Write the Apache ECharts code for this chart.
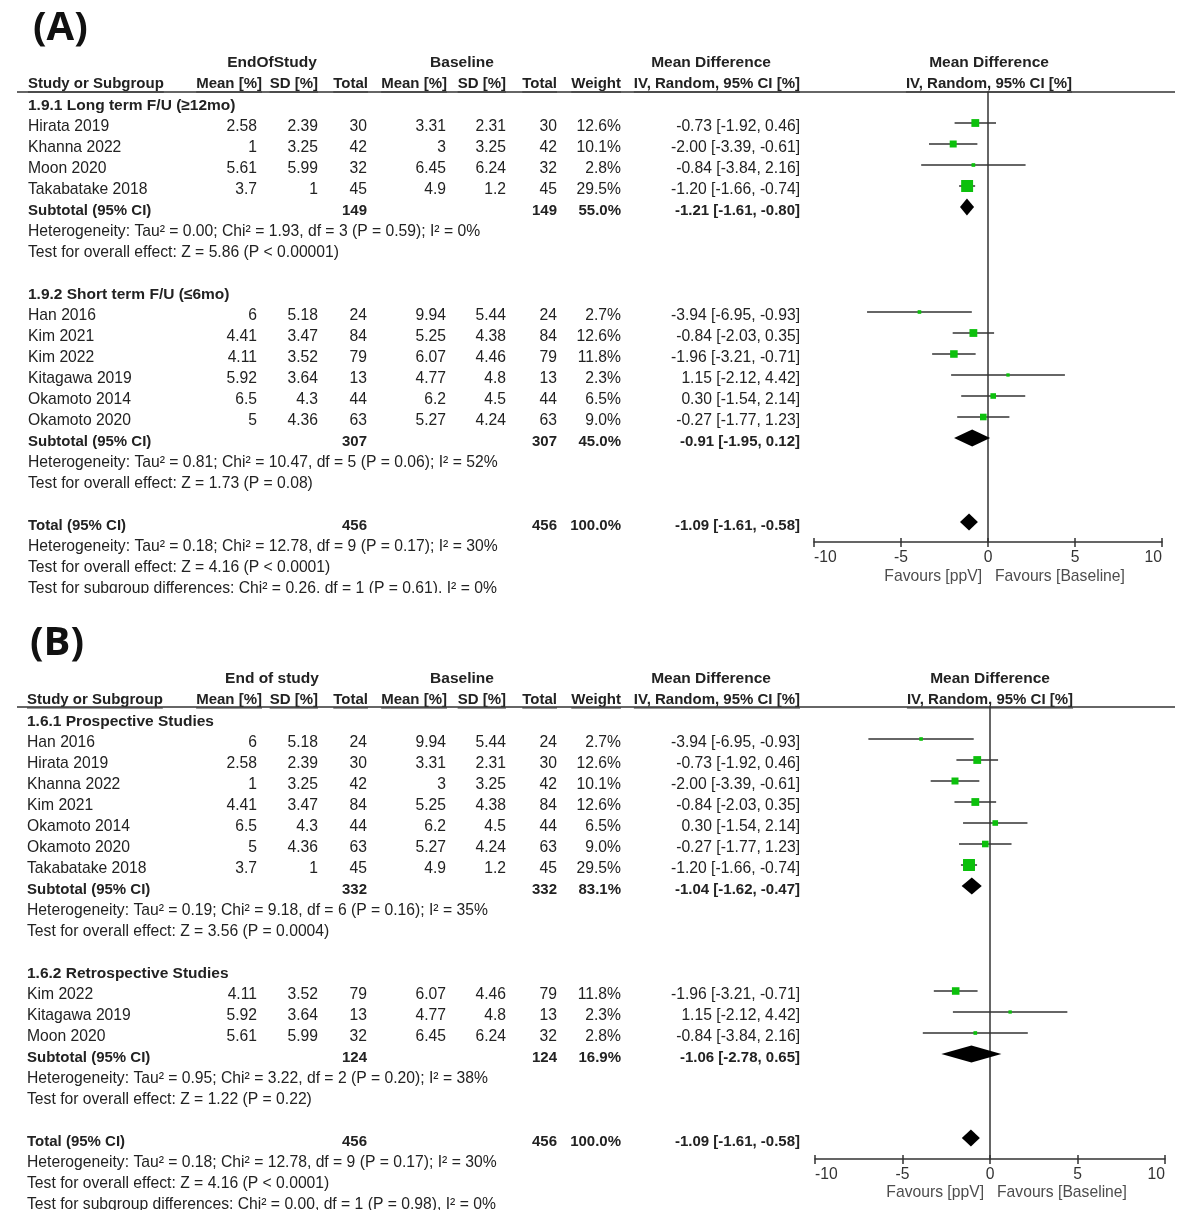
<!DOCTYPE html>
<html>
<head>
<meta charset="utf-8">
<script src="https://cdn.jsdelivr.net/npm/echarts@6/dist/echarts.min.js"></script>
<style>
  html, body { margin: 0; padding: 0; background: #fff; }
  #main { width: 1187px; height: 1223px; }
</style>
</head>
<body>
<div id="main"></div>
<script>
// study level data (shared by both panels)
const studies = ['Hirata 2019', 'Khanna 2022', 'Moon 2020', 'Takabatake 2018', 'Han 2016',
  'Kim 2021', 'Kim 2022', 'Kitagawa 2019', 'Okamoto 2014', 'Okamoto 2020'];
const endMean = [2.58, 1, 5.61, 3.7, 6, 4.41, 4.11, 5.92, 6.5, 5];
const endSD = [2.39, 3.25, 5.99, 1, 5.18, 3.47, 3.52, 3.64, 4.3, 4.36];
const endN = [30, 42, 32, 45, 24, 84, 79, 13, 44, 63];
const baseMean = [3.31, 3, 6.45, 4.9, 9.94, 5.25, 6.07, 4.77, 6.2, 5.27];
const baseSD = [2.31, 3.25, 6.24, 1.2, 5.44, 4.38, 4.46, 4.8, 4.5, 4.24];
const baseN = [30, 42, 32, 45, 24, 84, 79, 13, 44, 63];
const weight = [12.6, 10.1, 2.8, 29.5, 2.7, 12.6, 11.8, 2.3, 6.5, 9.0];
const md = [-0.73, -2.00, -0.84, -1.20, -3.94, -0.84, -1.96, 1.15, 0.30, -0.27];
const ciLow = [-1.92, -3.39, -3.84, -1.66, -6.95, -2.03, -3.21, -2.12, -1.54, -1.77];
const ciHigh = [0.46, -0.61, 2.16, -0.74, -0.93, 0.35, -0.71, 4.42, 2.14, 1.23];

// panel A: follow-up subgroups
const titlesA = ['1.9.1 Long term F/U (≥12mo)', '1.9.2 Short term F/U (≤6mo)'];
const membersA = [[0, 1, 2, 3], [4, 5, 6, 7, 8, 9]];
const subNA = [149, 307];
const subWeightA = [55.0, 45.0];
const subMdA = [-1.21, -0.91];
const subLowA = [-1.61, -1.95];
const subHighA = [-0.80, 0.12];
const hetA = ['Heterogeneity: Tau² = 0.00; Chi² = 1.93, df = 3 (P = 0.59); I² = 0%',
  'Heterogeneity: Tau² = 0.81; Chi² = 10.47, df = 5 (P = 0.06); I² = 52%'];
const testA = ['Test for overall effect: Z = 5.86 (P < 0.00001)',
  'Test for overall effect: Z = 1.73 (P = 0.08)'];
const subDiffA = 'Test for subgroup differences: Chi² = 0.26, df = 1 (P = 0.61), I² = 0%';

// panel B: study design subgroups
const titlesB = ['1.6.1 Prospective Studies', '1.6.2 Retrospective Studies'];
const membersB = [[4, 0, 1, 5, 8, 9, 3], [6, 7, 2]];
const subNB = [332, 124];
const subWeightB = [83.1, 16.9];
const subMdB = [-1.04, -1.06];
const subLowB = [-1.62, -2.78];
const subHighB = [-0.47, 0.65];
const hetB = ['Heterogeneity: Tau² = 0.19; Chi² = 9.18, df = 6 (P = 0.16); I² = 35%',
  'Heterogeneity: Tau² = 0.95; Chi² = 3.22, df = 2 (P = 0.20); I² = 38%'];
const testB = ['Test for overall effect: Z = 3.56 (P = 0.0004)',
  'Test for overall effect: Z = 1.22 (P = 0.22)'];
const subDiffB = 'Test for subgroup differences: Chi² = 0.00, df = 1 (P = 0.98), I² = 0%';

// overall
const totalN = 456;
const totalMd = -1.09, totalLow = -1.61, totalHigh = -0.58;
const totalHet = 'Heterogeneity: Tau² = 0.18; Chi² = 12.78, df = 9 (P = 0.17); I² = 30%';
const totalTest = 'Test for overall effect: Z = 4.16 (P < 0.0001)';

const axisTicks = [-10, 10, 5];
const favours = ['Favours [ppV]', 'Favours [Baseline]'];

// layout
const FONT = '"Liberation Sans", Arial, sans-serif';
const TXT = '#222';
const LINE = '#333';
const rowPitch = 21;
const textDy = 4;
const colRight = [257, 318, 367, 446, 506, 557, 621, 800];
const measure = document.createElement('canvas').getContext('2d');

function fmt(v) { return v.toFixed(2); }
function ci(m, l, h) { return fmt(m) + ' [' + fmt(l) + ', ' + fmt(h) + ']'; }

// size: number, bold when given as string like 'b15'
function T(x, y, s, align, size) {
  const bold = typeof size === 'string';
  return {
    type: 'text', x: x, y: y, silent: true,
    style: { text: s, fill: TXT, fontSize: bold ? +size.slice(1) : (size || 15.7), fontFamily: FONT,
      fontWeight: bold ? 'bold' : 'normal', align: align || 'left', verticalAlign: 'middle' }
  };
}
function L(x1, y1, x2, y2, w) {
  return { type: 'line', silent: true, shape: { x1: x1, y1: y1, x2: x2, y2: y2 },
    style: { stroke: LINE, lineWidth: w || 1 } };
}
function textW(s) {
  measure.font = 'bold 15px ' + FONT;
  return measure.measureText(s).width;
}

const graphics = [];
const options = { animation: false, grid: [], xAxis: [], yAxis: [], series: [], graphic: { elements: graphics } };

function buildPanel(idx, P, head1, titles, members, subN, subW, subMd, subLow, subHigh, het, test, subDiff) {
  graphics.push({ type: 'text', x: P.tagX, y: P.tagY, silent: true,
    style: { text: P.tag, fill: '#111', fontSize: 40, fontWeight: 'bold', fontFamily: '"Open Sans", sans-serif',
      verticalAlign: 'middle' } });

  // header
  graphics.push(T(272, P.head1Y, head1, 'center', 'b15.5'));
  graphics.push(T(462, P.head1Y, 'Baseline', 'center', 'b15.5'));
  graphics.push(T(711, P.head1Y, 'Mean Difference', 'center', 'b15.5'));
  graphics.push(T(P.plotMid, P.head1Y, 'Mean Difference', 'center', 'b15.5'));
  const h2 = ['Mean [%]', 'SD [%]', 'Total', 'Mean [%]', 'SD [%]', 'Total', 'Weight', 'IV, Random, 95% CI [%]'];
  const h2Right = [262, 318, 368, 447, 506, 557, 621, 800];
  const uy = P.head2Y + 8;
  graphics.push(T(P.labelX, P.head2Y, 'Study or Subgroup', 'left', 'b15'));
  graphics.push(L(P.labelX, uy, P.labelX + textW('Study or Subgroup'), uy, 1));
  h2.forEach((s, i) => {
    graphics.push(T(h2Right[i], P.head2Y, s, 'right', 'b15'));
    graphics.push(L(h2Right[i] - textW(s), uy, h2Right[i], uy, 1));
  });
  const iv = 'IV, Random, 95% CI [%]';
  graphics.push(T(P.plotMid, P.head2Y, iv, 'center', 'b15'));
  graphics.push(L(P.plotMid - textW(iv) / 2, uy, P.plotMid + textW(iv) / 2, uy, 1));
  graphics.push(L(17, P.lineY, 1175, P.lineY, 1.5));

  const studyData = [], diamondData = [];
  let k = 0;
  const y = (r) => P.row0 + r * rowPitch + textDy;
  titles.forEach((title, g) => {
    graphics.push(T(P.labelX, y(k), title, 'left', 'b15.5'));
    k++;
    members[g].forEach((i) => {
      const cells = [endMean[i], endSD[i], endN[i], baseMean[i], baseSD[i], baseN[i],
        weight[i].toFixed(1) + '%', ci(md[i], ciLow[i], ciHigh[i])];
      graphics.push(T(P.labelX, y(k), studies[i], 'left'));
      cells.forEach((c, j) => graphics.push(T(colRight[j], y(k), String(c), 'right')));
      studyData.push([md[i], k, ciLow[i], ciHigh[i], weight[i]]);
      k++;
    });
    graphics.push(T(P.labelX, y(k), 'Subtotal (95% CI)', 'left', 'b15'));
    graphics.push(T(colRight[2], y(k), String(subN[g]), 'right', 'b15'));
    graphics.push(T(colRight[5], y(k), String(subN[g]), 'right', 'b15'));
    graphics.push(T(colRight[6], y(k), subW[g].toFixed(1) + '%', 'right', 'b15'));
    graphics.push(T(colRight[7], y(k), ci(subMd[g], subLow[g], subHigh[g]), 'right', 'b15'));
    diamondData.push([subMd[g], k, subLow[g], subHigh[g]]);
    k++;
    graphics.push(T(P.labelX, y(k), het[g], 'left')); k++;
    graphics.push(T(P.labelX, y(k), test[g], 'left')); k++;
    k++;
  });
  graphics.push(T(P.labelX, y(k), 'Total (95% CI)', 'left', 'b15'));
  graphics.push(T(colRight[2], y(k), String(totalN), 'right', 'b15'));
  graphics.push(T(colRight[5], y(k), String(totalN), 'right', 'b15'));
  graphics.push(T(colRight[6], y(k), '100.0%', 'right', 'b15'));
  graphics.push(T(colRight[7], y(k), ci(totalMd, totalLow, totalHigh), 'right', 'b15'));
  diamondData.push([totalMd, k, totalLow, totalHigh]);
  k++;
  graphics.push(T(P.labelX, y(k), totalHet, 'left')); k++;
  graphics.push(T(P.labelX, y(k), totalTest, 'left')); k++;
  graphics.push(T(P.labelX, y(k), subDiff, 'left'));
  // the source figure is cropped through the last line
  graphics.push({ type: 'rect', silent: true, z: 10, shape: { x: 0, y: P.cropY, width: 620, height: 14 },
    style: { fill: '#fff' } });

  // favours labels
  const zeroX = (P.xLeft + P.xRight) / 2;
  const f0 = T(zeroX - 6, P.favY, favours[0], 'right');
  const f1 = T(zeroX + 7, P.favY, favours[1], 'left');
  f0.style.fill = f1.style.fill = '#4d4d4d';
  graphics.push(f0, f1);

  // forest plot
  options.grid.push({ left: P.xLeft, top: P.lineY, width: P.xRight - P.xLeft, height: P.axisY - P.lineY });
  const xBase = { type: 'value', gridIndex: idx, min: axisTicks[0], max: axisTicks[1], interval: axisTicks[2],
    position: 'bottom', splitLine: { show: false } };
  options.xAxis.push(Object.assign({}, xBase, {
    axisLine: { onZero: false, lineStyle: { color: LINE, width: 1.5 } },
    axisTick: { length: 5, lineStyle: { color: LINE, width: 1.5 } },
    axisLabel: { fontSize: 15.7, color: '#333', fontFamily: FONT, margin: 8,
      alignMinLabel: 'left', alignMaxLabel: 'right' }
  }));
  options.xAxis.push(Object.assign({}, xBase, {
    axisLine: { show: false, onZero: false },
    axisTick: { inside: true, length: 4, lineStyle: { color: LINE, width: 1.5 } },
    axisLabel: { show: false }
  }));
  options.yAxis.push({ type: 'value', gridIndex: idx, inverse: true,
    min: (P.lineY - P.row0) / rowPitch, max: (P.axisY - P.row0) / rowPitch,
    axisLine: { show: true, onZero: true, lineStyle: { color: LINE, width: 1.5 } },
    axisTick: { show: false }, axisLabel: { show: false }, splitLine: { show: false } });

  options.series.push({
    type: 'custom', xAxisIndex: idx * 2, yAxisIndex: idx, data: studyData, z: 5,
    encode: { x: [0, 2, 3], y: 1 },
    renderItem: function (params, api) {
      const r = api.value(1);
      const a = api.coord([api.value(2), r]);
      const b = api.coord([api.value(3), r]);
      const c = api.coord([api.value(0), r]);
      const s = 2.2 * Math.sqrt(api.value(4));
      return { type: 'group', children: [
        { type: 'line', shape: { x1: a[0], y1: a[1], x2: b[0], y2: b[1] }, style: { stroke: LINE, lineWidth: 1.5 } },
        { type: 'rect', shape: { x: c[0] - s / 2, y: c[1] - s / 2, width: s, height: s }, style: { fill: '#0cc00c' } }
      ] };
    }
  });
  options.series.push({
    type: 'custom', xAxisIndex: idx * 2, yAxisIndex: idx, data: diamondData, z: 5,
    encode: { x: [0, 2, 3], y: 1 },
    renderItem: function (params, api) {
      const r = api.value(1);
      const a = api.coord([api.value(2), r]);
      const b = api.coord([api.value(3), r]);
      const c = api.coord([api.value(0), r]);
      const h = 8.5;
      return { type: 'polygon', shape: { points: [[a[0], a[1]], [c[0], c[1] - h], [b[0], b[1]], [c[0], c[1] + h]] },
        style: { fill: '#000' } };
    }
  });
}

buildPanel(0, { tag: '(A)', tagX: 33, tagY: 29, head1Y: 63, head2Y: 84, lineY: 92, row0: 102, axisY: 542,
  xLeft: 814, xRight: 1162, plotMid: 989, favY: 577, labelX: 28, cropY: 593 },
  'EndOfStudy', titlesA, membersA, subNA, subWeightA, subMdA, subLowA, subHighA, hetA, testA, subDiffA);
buildPanel(1, { tag: '(B)', tagX: 30, tagY: 644, head1Y: 679, head2Y: 700, lineY: 707, row0: 718, axisY: 1159,
  xLeft: 815, xRight: 1165, plotMid: 990, favY: 1193, labelX: 27, cropY: 1210 },
  'End of study', titlesB, membersB, subNB, subWeightB, subMdB, subLowB, subHighB, hetB, testB, subDiffB);

const chart = echarts.init(document.getElementById('main'));
chart.setOption(options);
</script>
</body>
</html>
